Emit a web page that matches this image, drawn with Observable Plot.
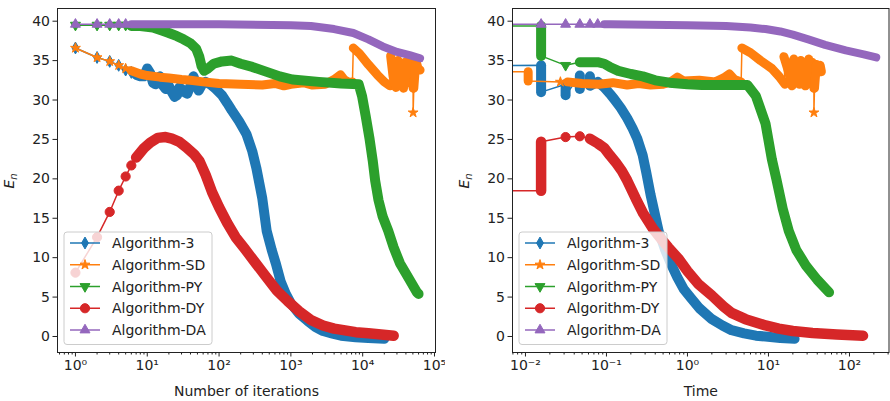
<!DOCTYPE html>
<html><head><meta charset="utf-8">
<script src="https://cdn.jsdelivr.net/npm/d3@7"></script>
<script src="https://cdn.jsdelivr.net/npm/@observablehq/plot@0.6"></script>
<style>
body{margin:0;background:#fff;font-family:"DejaVu Sans",sans-serif;}
#wrap{display:flex;width:890px;height:401px;overflow:hidden;}
</style></head><body><div id="wrap"></div>
<script>
// ---------- names, ticks ----------
const seriesNames = ["Algorithm-3","Algorithm-SD","Algorithm-PY","Algorithm-DY","Algorithm-DA"];
const xLabelLeft = "Number of iterations";
const xLabelRight = "Time";
const yLabelBase = "E", yLabelSub = "n";
const xTicksIter = [1,10,100,1000,10000,100000];
const xTicksTime = [0.01,0.1,1,10,100];
const yTicks = [0,5,10,15,20,25,30,35,40];

// ---------- data: [x, E_n, run]  run 0 = single sample, run k>0 = dense run k ----------
// Left panel: x = number of iterations
const alg3Iter = [[1,36.6,0],[2,35.4,0],[3,34.9,0],[4,34.4,0],[5,33.8,0],[6,33.5,0],[7,33.2,1],[8,33.0,1],[9,33.0,1],[10,34.0,1],[11,33.4,1],[12,32.2,1],[13,32.0,1],[14,32.6,1],[15,33.0,1],[16,32.0,1],[18,31.4,1],[20,31.8,1],[22,31.0,1],[24,30.4,1],[26,30.6,1],[28,31.6,1],[30,31.4,1],[33,31.0,1],[36,30.8,1],[40,31.8,1],[44,33.0,1],[48,32.0,1],[52,31.2,1],[58,32.0,1],[65,32.3,1],[75,32.0,1],[90,31.4,1],[110,30.6,1],[130,29.6,1],[150,28.7,1],[190,27.3,1],[240,25.7,1],[290,23.5,1],[330,21.4,1],[400,17.5,1],[460,13.4,1],[540,11.0,1],[620,9.2,1],[720,7.0,1],[850,5.4,1],[1000,4.2,1],[1300,2.9,1],[1700,2.0,1],[2200,1.2,1],[2800,0.7,1],[3700,0.4,1],[5000,0.1,1],[8000,-0.1,1],[12000,-0.2,1],[20000,-0.3,1]];
const algSDIter = [[1,36.6,0],[2,35.4,0],[3,34.9,0],[4,34.4,0],[5,34.0,0],[6,33.7,1],[8,33.3,1],[10,33.1,1],[15,32.9,1],[20,32.8,1],[30,32.6,1],[40,32.5,1],[60,32.3,1],[100,32.1,1],[200,32.0,1],[400,31.9,1],[600,32.1,1],[800,31.8,1],[1000,32.0,1],[1500,32.2,1],[2000,31.9,1],[3000,32.0,1],[4000,32.6,1],[4900,33.2,1],[5500,32.6,1],[6500,32.2,1],[7200,32.3,1],
  [7400,36.6,2],[9000,35.9,2],[12000,34.5,2],[16000,33.2,2],[20000,32.3,2],[24000,31.8,2],
  [24500,35.6,3],[26500,33.0,3],[29000,31.6,3],[31000,35.0,3],[34000,33.0,3],[37000,31.5,3],[39000,34.8,3],[43000,32.2,3],[46000,35.0,3],[49000,33.0,3],[50400,31.5,3],
  [50400,28.4,0],
  [51500,31.5,4],[55000,35.0,4],[59000,34.0,4],[63000,33.8,4]];
const algPYIter = [[1,39.5,0],[2,39.5,0],[3,39.5,0],[4,39.5,0],[5,39.5,0],[6,39.4,1],[8,39.4,1],[12,39.2,1],[16,38.8,1],[20,38.5,1],[26,38.1,1],[32,37.7,1],[40,37.2,1],[48,36.5,1],[53,35.5,1],[57,34.3,1],[62,33.7,1],[70,34.0,1],[84,34.6,1],[110,34.9,1],[150,35.0,1],[200,34.6,1],[290,34.2,1],[450,33.6,1],[700,33.0,1],[1050,32.6,1],[2450,32.3,1],[5000,32.1,1],[8800,32.0,1],[9800,30.5,1],[11000,28.0,1],[12500,25.0,1],[13800,22.3,1],[14900,19.8,1],[16600,17.3,1],[19000,15.2,1],[22700,13.4,1],[27000,11.3,1],[33000,9.3,1],[45000,7.2,1],[57000,5.6,1],[60000,5.4,1]];
const algDYIter = [[1,8.1,0],[2,12.6,0],[3,15.8,0],[4,18.5,0],[5,20.3,0],[6,21.7,0],[7,22.7,1],[9,23.9,1],[11,24.6,1],[14,25.2,1],[18,25.3,1],[22,25.1,1],[28,24.7,1],[35,24.0,1],[45,23.1,1],[53,22.3,1],[65,20.5,1],[80,18.3,1],[100,16.4,1],[130,14.4,1],[170,12.6,1],[225,11.2,1],[330,9.2,1],[450,7.6,1],[640,5.8,1],[900,4.5,1],[1300,3.2,1],[1900,2.1,1],[2800,1.4,1],[4000,1.0,1],[5400,0.8,1],[8000,0.55,1],[12000,0.4,1],[18000,0.25,1],[27000,0.1,1]];
const algDAIter = [[1,39.6,0],[2,39.6,0],[3,39.6,0],[4,39.6,0],[5,39.6,0],[6,39.6,1],[100,39.6,1],[1000,39.5,1],[1900,39.4,1],[4000,39.0,1],[7400,38.5,1],[12000,37.7,1],[19000,36.8,1],[30000,36.1,1],[45000,35.7,1],[63000,35.3,1]];

// Right panel: x = time (the first row of each series is the start value, t ~ 0)
const alg3Time = [[0.001,34.3,0],[0.0156,34.4,1],[0.0156,31.0,1],[0.0313,32.0,2],[0.0313,30.6,2],[0.0469,33.1,3],[0.0469,31.4,3],[0.0625,33.0,4],[0.0625,31.8,4],[0.078,32.3,4],[0.094,31.6,4],[0.11,30.8,4],[0.125,30.1,4],[0.15,29.0,4],[0.18,27.7,4],[0.21,26.4,4],[0.24,25.1,4],[0.28,23.0,4],[0.31,20.8,4],[0.35,18.0,4],[0.44,13.4,4],[0.53,11.0,4],[0.62,9.3,4],[0.75,7.5,4],[0.9,6.0,4],[1.1,4.9,4],[1.4,3.6,4],[2.0,2.2,4],[2.7,1.4,4],[3.5,0.8,4],[5,0.4,4],[7,0.1,4],[9.2,0.0,4],[14,-0.2,4],[21,-0.3,4]];
const algSDTime = [[0.001,33.6,0],[0.0108,33.6,1],[0.0108,32.4,1],[0.027,32.3,0],[0.033,32.3,2],[0.05,32.1,2],[0.08,32.0,2],[0.12,32.2,2],[0.18,31.9,2],[0.25,32.1,2],[0.35,31.9,2],[0.5,32.0,2],[0.62,32.3,2],[0.75,32.9,2],[0.9,32.4,2],[1.4,32.5,2],[2.2,32.3,2],[2.8,32.8,2],[3.3,33.3,2],[3.8,32.6,2],[4.6,32.3,2],
  [4.7,36.6,3],[6,36.0,3],[8,35.0,3],[11,34.0,3],[13.5,33.0,3],[16,32.0,3],
  [15.5,35.5,4],[17.8,33.5,4],[19.5,31.8,4],[20.5,35.2,4],[22,34.0,4],[24,32.0,4],[25,35.0,4],[27,33.5,4],[28.5,31.8,4],[30,34.5,4],[31.5,35.2,4],[33,32.5,4],[34.5,34.8,4],[36,32.0,4],[36.4,31.5,4],
  [36.4,28.4,0],
  [37,31.5,5],[39,34.5,5],[41,33.5,5],[43.5,34.4,5],[45,33.6,5]];
const algPYTime = [[0.001,39.4,0],[0.0156,39.4,1],[0.0156,35.6,1],[0.0313,34.4,0],[0.0469,34.8,2],[0.0625,34.8,2],[0.078,34.8,2],[0.094,34.6,2],[0.11,34.2,2],[0.14,33.7,2],[0.2,33.3,2],[0.28,33.0,2],[0.4,32.5,2],[0.6,32.2,2],[1.0,32.0,2],[1.5,31.9,2],[3,31.9,2],[5.5,31.9,2],[7,30.5,2],[9.2,27.0,2],[11,22.5,2],[12.5,20.0,2],[15,16.2,2],[17.8,13.4,2],[22,11.0,2],[29,9.0,2],[40,7.2,2],[56,5.6,2]];
const algDYTime = [[0.001,18.5,0],[0.0156,18.5,1],[0.0156,24.7,1],[0.0313,25.3,0],[0.0469,25.4,0],[0.0625,25.1,2],[0.078,24.5,2],[0.094,23.9,2],[0.11,23.0,2],[0.13,22.1,2],[0.155,21.0,2],[0.18,19.8,2],[0.23,17.5,2],[0.285,15.6,2],[0.38,13.6,2],[0.49,12.2,2],[0.58,11.3,2],[0.77,9.9,2],[1.0,8.3,2],[1.35,6.7,2],[2.0,5.2,2],[2.8,3.8,2],[3.5,3.0,2],[5.2,2.2,2],[9.2,1.4,2],[13.4,1.0,2],[20,0.7,2],[35,0.45,2],[70,0.25,2],[147,0.1,2]];
const algDATime = [[0.001,39.6,0],[0.0156,39.6,0],[0.0313,39.6,0],[0.0469,39.6,0],[0.0625,39.6,0],[0.078,39.6,0],[0.094,39.6,1],[0.11,39.6,1],[1,39.5,1],[3,39.4,1],[6,39.2,1],[9.2,39.0,1],[14,38.7,1],[20,38.3,1],[31,37.7,1],[50,37.0,1],[90,36.3,1],[150,35.8,1],[214,35.4,1]];

// ---------- styles ----------
const FS = 14;
const colors = ["#1f77b4","#ff7f0e","#2ca02c","#d62728","#9467bd"];
const triangleDown = {draw(ctx, size){const s3=Math.sqrt(3);const y=-Math.sqrt(size/(s3*3));ctx.moveTo(0,-y*2);ctx.lineTo(-s3*y,y);ctx.lineTo(s3*y,y);ctx.closePath();}};
const symbols = [d3.symbolDiamond, d3.symbolStar, triangleDown, d3.symbolCircle, d3.symbolTriangle];
const radii = [3.6, 3.1, 3.7, 4.6, 3.7];
const bandW = [10, 9, 10, 10.5, 8];

const sup = {"-":"\u207B","0":"\u2070","1":"\u00B9","2":"\u00B2","3":"\u00B3","4":"\u2074","5":"\u2075","6":"\u2076","7":"\u2077","8":"\u2078","9":"\u2079"};
const fmtPow = d => "10" + String(Math.round(Math.log10(d))).split("").map(c => sup[c]).join("");
function minorTicks(lo, hi) {
  const out = [];
  const e0 = Math.floor(Math.log10(lo)), e1 = Math.ceil(Math.log10(hi));
  for (let e = e0; e <= e1; e++) for (let m = 2; m <= 9; m++) { const v = m * Math.pow(10, e); if (v >= lo && v <= hi) out.push(v); }
  return out;
}

function drawPanel(cfg) {
  const marks = [];
  cfg.series.forEach((rows, i) => {
    const data = rows.map(([x, y, run]) => ({x, y, run}));
    marks.push(Plot.line(data, {x: "x", y: "y", stroke: colors[i], strokeWidth: 1.5, clip: true}));
    marks.push(Plot.line(data.filter(d => d.run > 0), {x: "x", y: "y", z: "run", stroke: colors[i], strokeWidth: bandW[i], strokeLinecap: "round", strokeLinejoin: "round", clip: true}));
    marks.push(Plot.dot(data.filter(d => d.run === 0), {x: "x", y: "y", r: radii[i], symbol: symbols[i], fill: colors[i], stroke: colors[i], strokeWidth: 1, clip: true}));
  });
  marks.push(Plot.frame({stroke: "#222", strokeWidth: 1}));
  marks.push(Plot.axisX({ticks: minorTicks(cfg.xDomain[0], cfg.xDomain[1]), tickFormat: () => "", tickSize: 2.5, label: null}));
  marks.push(Plot.axisX({ticks: cfg.majors, tickFormat: fmtPow, tickSize: 4.5, tickPadding: 3, label: null, fontSize: FS}));
  marks.push(Plot.axisY({ticks: yTicks, tickSize: 4.5, tickPadding: 3, label: null, fontSize: FS}));
  marks.push(Plot.text([cfg.xLabel], {frameAnchor: "bottom", dy: 43, fontSize: FS, fill: "#222"}));

  const plot = Plot.plot({
    width: 445, height: 401,
    marginLeft: cfg.ml, marginRight: cfg.mr, marginTop: 8, marginBottom: 49,
    x: {type: "log", domain: cfg.xDomain},
    y: {domain: [-2.03, 41.61]},
    style: {fontFamily: "DejaVu Sans", fontSize: FS + "px", color: "#222", background: "#fff", overflow: "visible"},
    marks
  });

  const svg = d3.select(plot);
  // y label E_n
  const yl = svg.append("text").attr("transform", `translate(${cfg.ylx},181) rotate(-90)`)
    .attr("text-anchor", "middle").attr("font-family", "DejaVu Sans").attr("font-size", FS)
    .attr("font-style", "italic").attr("fill", "#222");
  yl.append("tspan").text(yLabelBase);
  yl.append("tspan").attr("font-size", 10).attr("dy", 3).text(yLabelSub);

  // legend
  const bx = cfg.bx, by = 232;
  const g = svg.append("g").attr("font-family", "DejaVu Sans").attr("font-size", FS).attr("text-anchor", "start");
  g.append("rect").attr("x", bx).attr("y", by).attr("width", 148).attr("height", 112.5).attr("rx", 3)
    .attr("fill", "white").attr("fill-opacity", 0.8).attr("stroke", "#cccccc");
  seriesNames.forEach((name, i) => {
    const y = 243 + i * 21.75;
    g.append("line").attr("x1", bx + 6).attr("x2", bx + 36).attr("y1", y).attr("y2", y)
      .attr("stroke", colors[i]).attr("stroke-width", 1.5);
    g.append("path").attr("d", d3.symbol(symbols[i], radii[i] * radii[i] * Math.PI)())
      .attr("transform", `translate(${bx + 21},${y})`).attr("fill", colors[i]).attr("stroke", colors[i]);
    g.append("text").attr("x", bx + 48).attr("y", y).attr("dy", "0.36em").attr("fill", "#222").text(name);
  });
  return plot;
}

const wrap = document.getElementById("wrap");
wrap.append(drawPanel({
  series: [alg3Iter, algSDIter, algPYIter, algDYIter, algDAIter],
  xDomain: [Math.pow(10, -0.25), Math.pow(10, 5.014)], majors: xTicksIter, xLabel: xLabelLeft,
  ml: 57, mr: 10, ylx: 14, bx: 64
}));
wrap.append(drawPanel({
  series: [alg3Time, algSDTime, algPYTime, algDYTime, algDATime],
  xDomain: [Math.pow(10, -2.16), Math.pow(10, 2.488)], majors: xTicksTime, xLabel: xLabelRight,
  ml: 67, mr: 1.5, ylx: 24, bx: 74
}));
</script></body></html>
